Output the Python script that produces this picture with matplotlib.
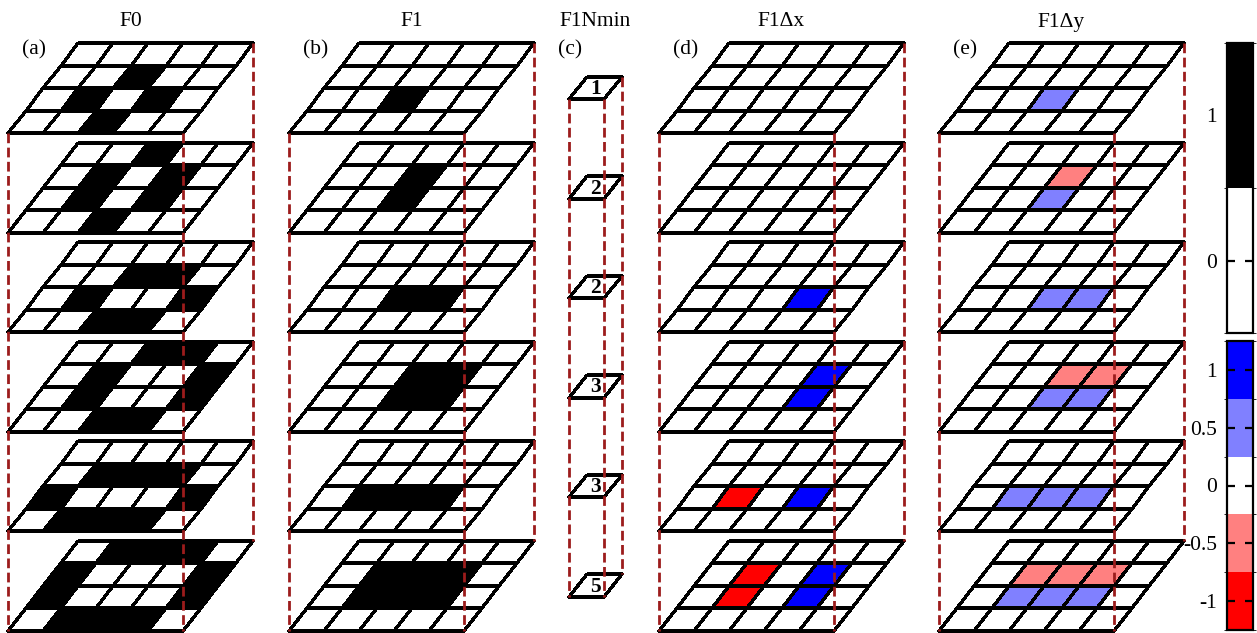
import numpy as np
import matplotlib
matplotlib.use('Agg')
from matplotlib import pyplot as plt
from matplotlib.colors import ListedColormap, BoundaryNorm
from matplotlib.cm import ScalarMappable

plt.rcParams['font.family'] = ['Liberation Serif', 'DejaVu Serif']
plt.rcParams['axes.unicode_minus'] = False

# layers from top to bottom, rows from back to front
f0 = [
    [[0, 0, 0, 0, 0], [0, 0, 1, 0, 0], [0, 1, 0, 1, 0], [0, 0, 1, 0, 0]],
    [[0, 0, 1, 0, 0], [0, 1, 0, 1, 0], [0, 1, 0, 1, 0], [0, 0, 1, 0, 0]],
    [[0, 0, 0, 0, 0], [0, 0, 1, 1, 0], [0, 1, 0, 0, 1], [0, 0, 1, 1, 0]],
    [[0, 0, 1, 1, 0], [0, 1, 0, 0, 1], [0, 1, 0, 0, 1], [0, 0, 1, 1, 0]],
    [[0, 0, 0, 0, 0], [0, 1, 1, 1, 0], [1, 0, 0, 0, 1], [0, 1, 1, 1, 0]],
    [[0, 1, 1, 1, 0], [1, 0, 0, 0, 1], [1, 0, 0, 0, 1], [0, 1, 1, 1, 0]],
]
f1 = [
    [[0, 0, 0, 0, 0], [0, 0, 0, 0, 0], [0, 0, 1, 0, 0], [0, 0, 0, 0, 0]],
    [[0, 0, 0, 0, 0], [0, 0, 1, 0, 0], [0, 0, 1, 0, 0], [0, 0, 0, 0, 0]],
    [[0, 0, 0, 0, 0], [0, 0, 0, 0, 0], [0, 0, 1, 1, 0], [0, 0, 0, 0, 0]],
    [[0, 0, 0, 0, 0], [0, 0, 1, 1, 0], [0, 0, 1, 1, 0], [0, 0, 0, 0, 0]],
    [[0, 0, 0, 0, 0], [0, 0, 0, 0, 0], [0, 1, 1, 1, 0], [0, 0, 0, 0, 0]],
    [[0, 0, 0, 0, 0], [0, 1, 1, 1, 0], [0, 1, 1, 1, 0], [0, 0, 0, 0, 0]],
]
f1_nmin = [1, 2, 2, 3, 3, 5]
f1_dx = [
    [[0, 0, 0, 0, 0], [0, 0, 0, 0, 0], [0, 0, 0, 0, 0], [0, 0, 0, 0, 0]],
    [[0, 0, 0, 0, 0], [0, 0, 0, 0, 0], [0, 0, 0, 0, 0], [0, 0, 0, 0, 0]],
    [[0, 0, 0, 0, 0], [0, 0, 0, 0, 0], [0, 0, 0, 1, 0], [0, 0, 0, 0, 0]],
    [[0, 0, 0, 0, 0], [0, 0, 0, 1, 0], [0, 0, 0, 1, 0], [0, 0, 0, 0, 0]],
    [[0, 0, 0, 0, 0], [0, 0, 0, 0, 0], [0, -1, 0, 1, 0], [0, 0, 0, 0, 0]],
    [[0, 0, 0, 0, 0], [0, -1, 0, 1, 0], [0, -1, 0, 1, 0], [0, 0, 0, 0, 0]],
]
f1_dy = [
    [[0, 0, 0, 0, 0], [0, 0, 0, 0, 0], [0, 0, 0.5, 0, 0], [0, 0, 0, 0, 0]],
    [[0, 0, 0, 0, 0], [0, 0, -0.5, 0, 0], [0, 0, 0.5, 0, 0], [0, 0, 0, 0, 0]],
    [[0, 0, 0, 0, 0], [0, 0, 0, 0, 0], [0, 0, 0.5, 0.5, 0], [0, 0, 0, 0, 0]],
    [[0, 0, 0, 0, 0], [0, 0, -0.5, -0.5, 0], [0, 0, 0.5, 0.5, 0], [0, 0, 0, 0, 0]],
    [[0, 0, 0, 0, 0], [0, 0, 0, 0, 0], [0, 0.5, 0.5, 0.5, 0], [0, 0, 0, 0, 0]],
    [[0, 0, 0, 0, 0], [0, -0.5, -0.5, -0.5, 0], [0, 0.5, 0.5, 0.5, 0], [0, 0, 0, 0, 0]],
]
titles = ['F0', 'F1', 'F1Nmin', 'F1\u0394x', 'F1\u0394y']
letters = ['(a)', '(b)', '(c)', '(d)', '(e)']
bw_ticks = [0, 1]
bw_labels = ['0', '1']
d_ticks = [-1, -0.5, 0, 0.5, 1]
d_labels = ['-1', '-0.5', '0', '0.5', '1']

# layout in pixels
W, H = 1257, 633
CELL_W, ROW_H, SHEAR = 35, 22.5, 17.5
TOP0, STEP = 43, 99.5
panel_x0 = [8, 289, 569, 659, 939]
DASH_COL = '#9c1c1c'
FS = 15.5

cmap_bw = ListedColormap(['white', 'black'])
norm_bw = BoundaryNorm([-0.5, 0.5, 1.5], cmap_bw.N)
cmap_d = ListedColormap(['#ff0000', '#ff8080', 'white', '#8080ff', '#0000ff'])
norm_d = BoundaryNorm([-1.25, -0.75, -0.25, 0.25, 0.75, 1.25], cmap_d.N)

fig = plt.figure(figsize=(W / 100, H / 100), dpi=100)
ax = fig.add_axes([0, 0, 1, 1])
ax.set_xlim(0, W)
ax.set_ylim(H, 0)
ax.axis('off')


def layer_mesh(x0, top, nrow, ncol):
    i = np.arange(nrow + 1)[:, None]
    j = np.arange(ncol + 1)[None, :]
    X = x0 + SHEAR * (nrow - i) + CELL_W * j
    Y = top + ROW_H * i + 0 * j
    return X, Y


def draw_stack(x0, layers, cmap, norm, tops=None, numbers=None):
    layers = np.array(layers, dtype=float)
    n, nrow, ncol = layers.shape
    corners = []
    for k in range(n):
        top = TOP0 + k * STEP if tops is None else tops[k]
        X, Y = layer_mesh(x0, top, nrow, ncol)
        ax.pcolormesh(X, Y, layers[k], cmap=cmap, norm=norm,
                      edgecolors='black', linewidth=1.6, zorder=2)
        if numbers is not None:
            ax.text(X.mean(), Y.mean() + 1, str(numbers[k]), ha='center', va='center',
                    fontsize=15.5, fontweight='bold', zorder=4)
        corners.append([(X[-1, 0], Y[-1, 0]), (X[-1, -1], Y[-1, -1]), (X[0, -1], Y[0, -1])])
    # dashed verticals joining the corners of first and last layer
    for c in range(3):
        (xa, ya), (xb, yb) = corners[0][c], corners[-1][c]
        ax.plot([xa, xb], [ya, yb], color=DASH_COL, lw=2, dashes=(3.5, 1.6), zorder=3)
    return x0 + (ncol * CELL_W + nrow * SHEAR) / 2


centers = []
centers.append(draw_stack(panel_x0[0], f0, cmap_bw, norm_bw))
centers.append(draw_stack(panel_x0[1], f1, cmap_bw, norm_bw))
cell_tops = [TOP0 + k * STEP + 2 * ROW_H - ROW_H / 2 for k in range(len(f1_nmin))]
centers.append(draw_stack(panel_x0[2], [[[0]]] * len(f1_nmin), cmap_bw, norm_bw,
                          tops=cell_tops, numbers=f1_nmin))
centers.append(draw_stack(panel_x0[3], f1_dx, cmap_d, norm_d))
centers.append(draw_stack(panel_x0[4], f1_dy, cmap_d, norm_d))

for p in range(5):
    ax.text(centers[p], 22, titles[p], ha='center', va='center', fontsize=FS)
    lx = panel_x0[p] + 14 if p != 2 else panel_x0[p] - 11
    ax.text(lx, 50, letters[p], ha='left', va='center', fontsize=FS)


def add_cbar(top, bottom, cmap, norm, ticks, labels):
    cax = fig.add_axes([1227 / W, 1 - bottom / H, 26 / W, (bottom - top) / H])
    cb = fig.colorbar(ScalarMappable(norm=norm, cmap=cmap), cax=cax)
    cb.set_ticks(ticks)
    cb.set_ticklabels(labels)
    cb.outline.set_linewidth(1.6)
    cax.yaxis.set_ticks_position('both')
    cax.tick_params(direction='in', left=True, right=True, labelleft=True, labelright=False,
                    length=6, width=1.6, labelsize=FS, pad=7)
    return cb


add_cbar(43, 333, cmap_bw, norm_bw, bw_ticks, bw_labels)
add_cbar(341, 630, cmap_d, norm_d, d_ticks, d_labels)

fig.savefig('out.png', dpi=100)
